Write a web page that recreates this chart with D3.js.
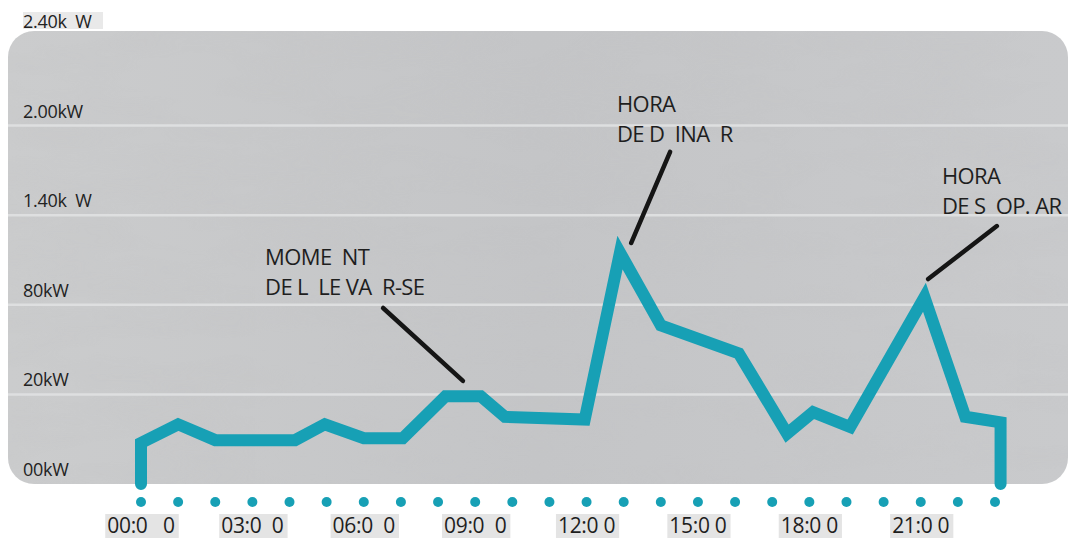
<!DOCTYPE html>
<html>
<head>
<meta charset="utf-8">
<script src="https://cdn.jsdelivr.net/npm/d3@7"></script>
<style>
  body { margin: 0; background: #fff; }
  text { font-family: "Open Sans", sans-serif; }
</style>
</head>
<body>
<div id="chart"></div>
<script>
// Power curve (hour of day, kW)
const hours = [0, 0, 1, 2, 4.15, 4.95, 6, 7.05, 8.2, 9.15, 9.8, 11.95, 12.9, 14, 16.1, 17.4, 18.1, 19.1, 21.1, 22.2, 23.15, 23.15];
const power = [0, 0.22, 0.32, 0.235, 0.235, 0.32, 0.245, 0.245, 0.47, 0.47, 0.36, 0.345, 1.24, 0.85, 0.70, 0.27, 0.385, 0.305, 1.0, 0.36, 0.33, 0];

// Axis ticks
const yTicks = [0, 0.48, 0.96, 1.44, 1.92, 2.4];
const yLabels = ["00kW", "20kW", "80kW", "1.40k  W", "2.00kW", "2.40k  W"];
const dotHours = d3.range(0, 24);
const xTicks = [0, 3, 6, 9, 12, 15, 18, 21];
const xLabels = ["00:0   0", "03:0  0", "06:0  0", "09:0  0", "12:0 0", "15:0 0", "18:0 0", "21:0 0"];

// Annotations: text lines, text anchor (hour, kW), leader from -> to (hour, kW)
const notes = [
  {lines: ["MOME  NT", "DE L  LE VA  R-SE"], at: [3.34, 1.173], from: [6.52, 0.943], to: [8.67, 0.552]},
  {lines: ["HORA", "DE D  INA  R"], at: [12.82, 1.993], from: [14.25, 1.779], to: [13.2, 1.291]},
  {lines: ["HORA", "DE S  OP. AR"], at: [21.57, 1.607], from: [23.05, 1.382], to: [21.2, 1.098]}
];

const W = 1070, H = 538;
const teal = "#17a0b5";

const svg = d3.select("#chart")
    .append("svg")
    .attr("width", W)
    .attr("height", H);

const x = d3.scaleLinear().domain([0, 23]).range([141, 995]);
const y = d3.scaleLinear().domain([0, 2.4]).range([484, 36]);

// Marble-ish panel
const defs = svg.append("defs");
const grad = defs.append("linearGradient").attr("id", "panel");
grad.append("stop").attr("offset", "0%").attr("stop-color", "#cbcccd");
grad.append("stop").attr("offset", "50%").attr("stop-color", "#c4c5c7");
grad.append("stop").attr("offset", "100%").attr("stop-color", "#c9cacc");
const filt = defs.append("filter").attr("id", "grain")
    .attr("x", 0).attr("y", 0).attr("width", "100%").attr("height", "100%");
filt.append("feTurbulence").attr("type", "fractalNoise")
    .attr("baseFrequency", "0.008 0.03").attr("numOctaves", 3).attr("seed", 4);
filt.append("feColorMatrix").attr("type", "matrix")
    .attr("values", "0 0 0 0 0.55  0 0 0 0 0.55  0 0 0 0 0.56  0 0 0 1.4 -0.55");
const clip = defs.append("clipPath").attr("id", "box");
clip.append("rect").attr("x", 8).attr("y", 31).attr("width", 1060).attr("height", 453).attr("rx", 26);

svg.append("rect")
    .attr("x", 8).attr("y", 31)
    .attr("width", 1060).attr("height", 453)
    .attr("rx", 26)
    .attr("fill", "url(#panel)");
svg.append("rect")
    .attr("x", 8).attr("y", 31)
    .attr("width", 1060).attr("height", 453)
    .attr("clip-path", "url(#box)")
    .attr("filter", "url(#grain)")
    .attr("opacity", 0.35);

// Gridlines
svg.selectAll(".grid")
    .data(yTicks.slice(1, -1))
    .enter()
    .append("line")
    .attr("x1", 8).attr("x2", 1068)
    .attr("y1", d => y(d)).attr("y2", d => y(d))
    .attr("stroke", "#dedfe0")
    .attr("stroke-width", 2.5);

// Y labels
svg.append("rect")
    .attr("x", 23).attr("y", 12).attr("width", 80).attr("height", 17)
    .attr("fill", "#e9e9e9");
svg.selectAll(".ylab")
    .data(yTicks)
    .enter()
    .append("text")
    .attr("x", 23)
    .attr("y", d => y(d) - 8)
    .style("white-space", "pre")
    .style("font-size", "18px")
    .style("letter-spacing", "-0.3px")
    .attr("fill", "#222")
    .text((d, i) => yLabels[i]);

// Power line
const line = d3.line()
    .x((d, i) => x(hours[i]))
    .y((d, i) => y(power[i]));

svg.append("path")
    .datum(power)
    .attr("d", line)
    .attr("fill", "none")
    .attr("stroke", teal)
    .attr("stroke-width", 12)
    .attr("stroke-linejoin", "miter")
    .attr("stroke-miterlimit", 4)
    .attr("stroke-linecap", "round");

// Annotations
notes.forEach(n => {
    svg.append("line")
        .attr("x1", x(n.from[0])).attr("y1", y(n.from[1]))
        .attr("x2", x(n.to[0])).attr("y2", y(n.to[1]))
        .attr("stroke", "#151515")
        .attr("stroke-width", 4.5)
        .attr("stroke-linecap", "round");
    svg.append("text")
        .attr("x", x(n.at[0]))
        .attr("y", y(n.at[1]))
        .style("white-space", "pre")
        .style("font-size", "22px")
        .style("letter-spacing", "-0.6px")
        .attr("fill", "#1e1e1e")
        .selectAll("tspan")
        .data(n.lines)
        .enter()
        .append("tspan")
        .attr("x", x(n.at[0]))
        .attr("dy", (d, i) => i === 0 ? 0 : 30)
        .text(d => d);
});

// Hour dots
svg.selectAll(".dot")
    .data(dotHours)
    .enter()
    .append("circle")
    .attr("cx", d => x(d))
    .attr("cy", 502)
    .attr("r", 5)
    .attr("fill", teal);

// X labels with light highlight behind
const xl = svg.selectAll(".xlab")
    .data(xTicks)
    .enter()
    .append("g");
const xt = xl.append("text")
    .attr("x", d => x(d))
    .attr("y", 533)
    .attr("text-anchor", "middle")
    .style("white-space", "pre")
    .style("font-size", "21px")
    .style("letter-spacing", "-0.3px")
    .attr("fill", "#1e1e1e")
    .text((d, i) => xLabels[i]);
xt.each(function() {
    const b = this.getBBox();
    d3.select(this.parentNode).insert("rect", "text")
        .attr("x", b.x - 2).attr("y", 514)
        .attr("width", b.width + 6).attr("height", 24)
        .attr("fill", "#e4e4e4");
});
</script>
</body>
</html>
